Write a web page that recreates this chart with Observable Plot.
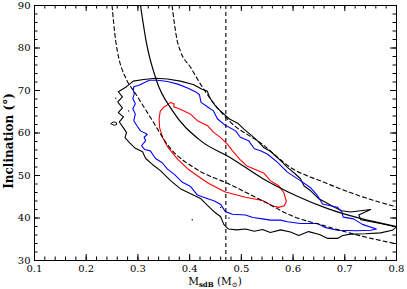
<!DOCTYPE html>
<html><head><meta charset="utf-8">
<script src="https://cdn.jsdelivr.net/npm/d3@7"></script>
<script src="https://cdn.jsdelivr.net/npm/@observablehq/plot@0.6"></script>
<style>body{margin:0;background:#fff}svg{display:block}</style>
</head><body><div id="chart"></div>
<script>
// Axis ticks
const xTicks = [0.1, 0.2, 0.3, 0.4, 0.5, 0.6, 0.7, 0.8];
const yTicks = [30, 40, 50, 60, 70, 80, 90];
const xMinor = d3.range(0.1, 0.8001, 0.02);
const yMinor = d3.range(30, 90.001, 2);

// Vertical dashed line (mass)
const vMass = [0.47];

// Solid curve
const solidM = [0.305, 0.316, 0.336, 0.367, 0.421, 0.479, 0.541, 0.605, 0.667, 0.730, 0.800];
const solidI = [90, 81.5, 72.3, 65.2, 58.2, 54.2, 49.3, 45.3, 42.2, 39.9, 38.0];
// Lower dashed curve
const lowM = [0.250, 0.257, 0.279, 0.292, 0.324, 0.360, 0.416, 0.476, 0.540, 0.600, 0.660, 0.724, 0.800];
const lowI = [90, 81.7, 72.3, 69.9, 63.7, 56.8, 51.3, 48.0, 44.1, 40.4, 38.2, 36.0, 33.9];
// Upper dashed curve
const upM = [0.366, 0.376, 0.382, 0.402, 0.421, 0.476, 0.540, 0.595, 0.660, 0.724, 0.800];
const upI = [90, 81.7, 79.3, 75.4, 71.5, 62.9, 57.4, 51.9, 48.4, 45.4, 42.6];

// Outer (black) contour
const blackM = [0.278,0.291,0.311,0.334,0.357,0.382,0.407,0.424,0.434,0.438,0.444,0.454,0.466,0.477,0.493,0.505,0.520,0.531,0.543,0.556,0.576,0.589,0.601,0.614,0.621,0.634,0.649,0.667,0.680,0.694,0.711,0.750,0.727,0.731,0.769,0.800,0.792,0.769,0.740,0.711,0.696,0.686,0.667,0.651,0.630,0.611,0.595,0.576,0.556,0.541,0.525,0.508,0.491,0.475,0.466,0.460,0.448,0.437,0.421,0.402,0.382,0.363,0.344,0.328,0.315,0.309,0.295,0.284,0.275,0.278,0.272,0.264,0.272,0.262,0.270,0.261,0.270,0.262,0.270];
const blackI = [70.9,72.2,72.6,72.9,72.7,72.2,71.4,70.3,69.9,68.6,67.3,65.8,64.5,63.3,62.3,60.9,59.4,58.2,56.6,55.7,53.5,51.9,50.7,49.3,47.6,46.4,44.6,43.4,42.5,41.7,41.4,42.0,40.7,39.6,38.7,37.9,37.1,36.5,36.3,36.2,35.9,35.2,35.2,36.1,36.8,35.9,36.7,37.2,36.6,37.3,36.9,37.4,37.2,37.4,38.5,40.3,41.4,42.7,44.6,45.7,46.9,48.8,51.1,52.6,54.0,55.6,56.4,57.7,58.9,60.1,61.2,62.6,63.8,64.8,65.9,67.3,68.5,69.7,70.3];
// Small closed black islet
const isleM = [0.248,0.252,0.258,0.259,0.254,0.248];
const isleI = [62.2,62.6,62.5,62.0,61.8,62.2];
// Stray points
const dotM = [0.257, 0.282, 0.405, 0.460, 0.476];
const dotI = [68.2, 65.2, 39.6, 42.5, 40.0];

// Middle (blue) contour
const blueM = [0.292,0.303,0.313,0.322,0.338,0.357,0.377,0.396,0.413,0.419,0.422,0.435,0.446,0.454,0.469,0.489,0.498,0.514,0.525,0.537,0.551,0.570,0.589,0.614,0.634,0.647,0.657,0.672,0.686,0.694,0.697,0.717,0.734,0.761,0.750,0.721,0.686,0.661,0.647,0.614,0.589,0.576,0.556,0.541,0.522,0.508,0.483,0.469,0.460,0.448,0.431,0.415,0.402,0.386,0.371,0.357,0.347,0.334,0.324,0.313,0.307,0.315,0.312,0.318,0.305,0.298,0.292,0.295,0.290,0.295,0.290,0.293,0.291];
const blueI = [70.9,71.3,71.9,72.4,72.4,72.1,71.5,70.6,69.6,69.0,67.2,66.1,65.2,63.3,61.8,60.5,59.0,58.2,56.3,55.8,55.0,53.1,50.8,48.8,47.1,45.3,43.3,42.9,42.5,41.5,40.2,39.8,38.5,37.4,37.1,37.0,37.1,37.8,38.7,38.7,39.1,39.5,39.5,39.8,40.1,40.7,40.9,41.5,43.2,44.0,44.7,45.4,47.4,48.4,50.2,51.5,53.0,54.0,55.8,56.1,57.0,58.2,59.0,59.7,60.5,61.7,62.9,64.5,65.7,66.9,68.1,69.2,70.1];

// Inner (red) contour
const redM = [0.363,0.370,0.369,0.382,0.402,0.415,0.435,0.446,0.460,0.473,0.483,0.498,0.510,0.527,0.543,0.556,0.572,0.582,0.587,0.583,0.572,0.560,0.541,0.508,0.469,0.437,0.419,0.396,0.377,0.357,0.348,0.342,0.341,0.343,0.350,0.357];
const redI = [67.2,66.8,66.2,65.6,64.4,62.9,61.7,60.2,58.9,57.4,55.8,53.7,52.3,51.4,50.6,48.8,47.6,46.0,43.9,42.9,42.5,42.9,44.1,44.9,46.1,48.1,49.6,51.6,53.8,56.8,58.9,61.2,63.3,65.1,66.1,66.6];

const pts = (M, I) => M.map((m, k) => ({m, i: I[k]}));
const ring = (M, I) => { const p = pts(M, I); return p.concat([p[0]]); };

// Inward tick lengths expressed through the scales (px -> data units)
const W = 407, H = 289, mL = 34, mR = 11, mT = 5, mB = 29;
const xDom = [0.1, 0.8], yDom = [30, 90];
const pxX = (xDom[1] - xDom[0]) / (W - mL - mR);
const pxY = (yDom[1] - yDom[0]) / (H - mT - mB);
const minL = 3.5, majL = 6;

const tickMarks = [];
for (const [vals, len] of [[xMinor, minL], [xTicks, majL]]) {
  tickMarks.push(Plot.ruleX(vals, {x: d => d, y1: yDom[0], y2: yDom[0] + len * pxY, stroke: "black", strokeWidth: 1}));
  tickMarks.push(Plot.ruleX(vals, {x: d => d, y1: yDom[1], y2: yDom[1] - len * pxY, stroke: "black", strokeWidth: 1}));
}
for (const [vals, len] of [[yMinor, minL], [yTicks, majL]]) {
  tickMarks.push(Plot.ruleY(vals, {y: d => d, x1: xDom[0], x2: xDom[0] + len * pxX, stroke: "black", strokeWidth: 1}));
  tickMarks.push(Plot.ruleY(vals, {y: d => d, x1: xDom[1], x2: xDom[1] - len * pxX, stroke: "black", strokeWidth: 1}));
}

const lw = 1.1;
const plot = Plot.plot({
  width: W, height: H,
  marginLeft: mL, marginRight: mR, marginTop: mT, marginBottom: mB,
  style: {fontFamily: "'DejaVu Serif', serif", fontSize: "10px", background: "white", color: "black"},
  x: {domain: xDom},
  y: {domain: yDom},
  marks: [
    Plot.line(ring(blackM, blackI), {x: "m", y: "i", stroke: "black", strokeWidth: lw}),
    Plot.line(ring(isleM, isleI), {x: "m", y: "i", stroke: "black", strokeWidth: 1}),
    Plot.dot(pts(dotM, dotI), {x: "m", y: "i", r: 0.7, fill: "black", stroke: null}),
    Plot.line(ring(blueM, blueI), {x: "m", y: "i", stroke: "#0000ff", strokeWidth: lw}),
    Plot.line(ring(redM, redI), {x: "m", y: "i", stroke: "#ff0000", strokeWidth: lw}),
    Plot.line(pts(solidM, solidI), {x: "m", y: "i", stroke: "black", strokeWidth: 1.2, curve: "monotone-x"}),
    Plot.line(pts(lowM, lowI), {x: "m", y: "i", stroke: "black", strokeWidth: 1.1, strokeDasharray: "4,3", curve: "monotone-x"}),
    Plot.line(pts(upM, upI), {x: "m", y: "i", stroke: "black", strokeWidth: 1.1, strokeDasharray: "4,3", curve: "monotone-x"}),
    Plot.ruleX(vMass, {stroke: "black", strokeWidth: 1.1, strokeDasharray: "4,3"}),
    ...tickMarks,
    Plot.frame({stroke: "black", strokeWidth: 1}),
    Plot.axisX(xTicks, {anchor: "bottom", tickSize: 0, tickPadding: 4, tickFormat: d => d.toFixed(1), label: null}),
    Plot.axisY(yTicks, {anchor: "left", tickSize: 0, tickPadding: 4, label: null})
  ]
});
document.getElementById("chart").appendChild(plot);

// Axis titles with sub-scripts
const svg = d3.select(plot);
const xl = svg.append("text").attr("x", 215).attr("y", 285).attr("text-anchor", "middle")
  .attr("font-family", "'DejaVu Serif', serif").attr("font-size", 10.5).attr("fill", "black");
xl.append("tspan").text("M");
xl.append("tspan").attr("font-size", 7).attr("font-weight", "bold").attr("dy", 2).text("sdB");
xl.append("tspan").attr("dy", -2).text(" (M");
xl.append("tspan").attr("font-size", 7).attr("dy", 2).text("⊙");
xl.append("tspan").attr("dy", -2).text(")");
svg.append("text").attr("transform", "translate(13,141) rotate(-90)").attr("text-anchor", "middle")
  .attr("font-family", "'DejaVu Serif', serif").attr("font-size", 12).attr("font-weight", "bold").attr("fill", "black")
  .text("Inclination (°)");
</script>
</body></html>
